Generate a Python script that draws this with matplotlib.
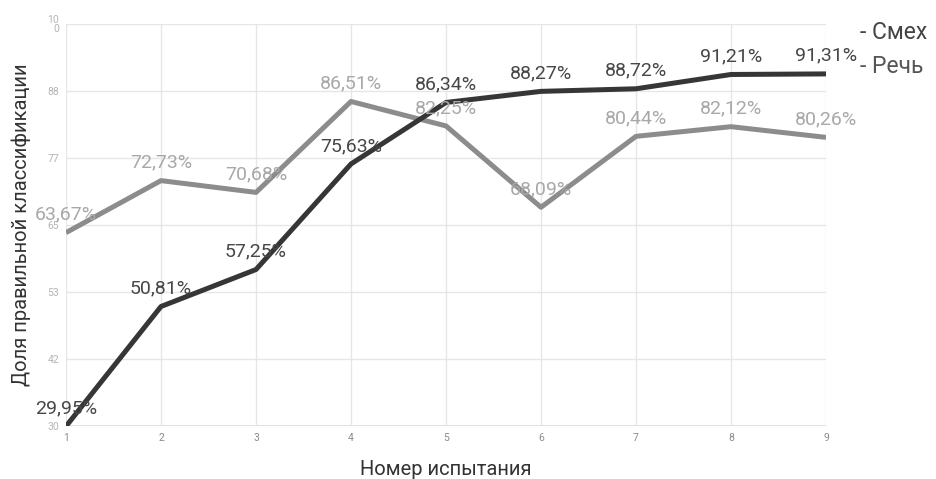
import matplotlib
matplotlib.use("Agg")
import matplotlib.pyplot as plt
import numpy as np

plt.rcParams['font.family'] = ['Roboto', 'DejaVu Sans']

trials = [1, 2, 3, 4, 5, 6, 7, 8, 9]
laugh = [29.95, 50.81, 57.25, 75.63, 86.34, 88.27, 88.72, 91.21, 91.31]
speech = [63.67, 72.73, 70.68, 86.51, 82.25, 68.09, 80.44, 82.12, 80.26]
y_ticks = [30, 41.67, 53.33, 65, 76.67, 88.33, 100]
y_tick_labels = ["30", "42", "53", "65", "77", "88", "10\n0"]

laugh_color = "#363636"
speech_color = "#8c8c8c"
laugh_text = "#474747"
speech_text = "#a8a8a8"

fig = plt.figure(figsize=(9.36, 4.79), dpi=100)
ax = fig.add_axes([0.0705, 0.1106, 0.812, 0.8393])

ax.set_xlim(1, 9)
ax.set_ylim(30, 100)
ax.set_xticks(trials)
ax.set_yticks(y_ticks)
ax.set_yticklabels(y_tick_labels, linespacing=0.9)
ax.tick_params(axis='both', length=0, labelsize=7.5, colors="#b5b5b5", pad=5)
ax.tick_params(axis='x', colors="#8a8a8a")
ax.grid(True, color="#e6e6e6", linewidth=1)
for s in ax.spines.values():
    s.set_visible(False)
ax.axhline(30, color="#dcdcdc", linewidth=1.2, zorder=1)

ax.plot(trials, speech, color=speech_color, linewidth=3.6, zorder=3, solid_capstyle='butt')
ax.plot(trials, laugh, color=laugh_color, linewidth=3.6, zorder=4, solid_capstyle='butt')

def fmt(v):
    return f"{v:.2f}".replace(".", ",") + "%"

for x, v in zip(trials, speech):
    ax.annotate(fmt(v), (x, v), xytext=(0, 13), textcoords="offset points",
                ha="center", va="center", fontsize=14, color=speech_text,
                zorder=5, annotation_clip=False)
for x, v in zip(trials, laugh):
    ax.annotate(fmt(v), (x, v), xytext=(0, 13), textcoords="offset points",
                ha="center", va="center", fontsize=14, color=laugh_text,
                zorder=6, annotation_clip=False)

ax.set_xlabel("Номер испытания", fontsize=14.5, color="#333333", labelpad=12)
ax.set_ylabel("Доля правильной классификации", fontsize=14.5, color="#333333", labelpad=12)

fig.text(0.919, 0.932, "- Смех", fontsize=16.5, color="#444444", va="center", ha="left")
fig.text(0.919, 0.862, "- Речь", fontsize=16.5, color="#555555", va="center", ha="left")

fig.savefig("out.png", dpi=100)
